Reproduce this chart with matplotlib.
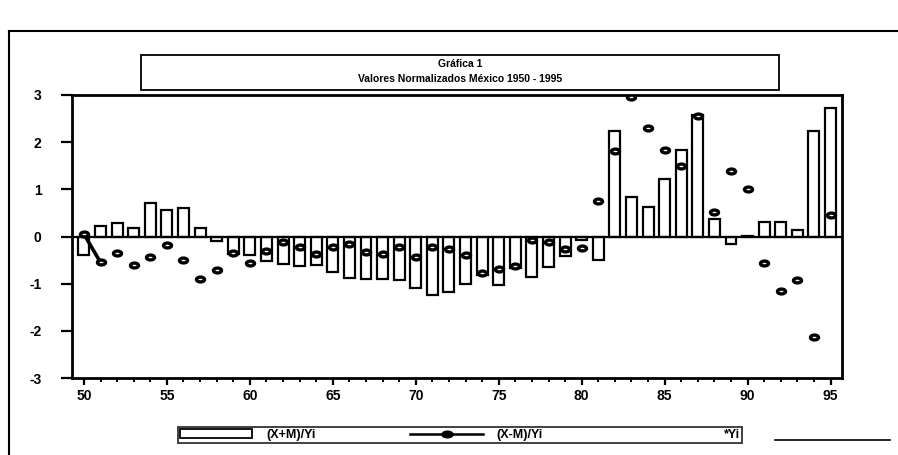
import matplotlib
matplotlib.use('Agg')
import matplotlib.pyplot as plt
import numpy as np
from matplotlib.path import Path
from matplotlib.patches import Rectangle
from matplotlib.lines import Line2D

# ---- data ----
years = list(range(50, 96))

x_plus_m = [-0.40, 0.23, 0.28, 0.18, 0.72, 0.56, 0.60, 0.19, -0.09, -0.38,
            -0.40, -0.52, -0.58, -0.62, -0.60, -0.76, -0.87, -0.90, -0.90, -0.92,
            -1.10, -1.24, -1.17, -1.01, -0.81, -1.03, -0.67, -0.86, -0.65, -0.41,
            -0.08, -0.50, 2.23, 0.84, 0.62, 1.21, 1.84, 2.57, 0.38, -0.16,
            0.02, 0.31, 0.31, 0.13, 2.23, 2.72]

x_minus_m = [0.05, -0.55, -0.36, -0.61, -0.43, -0.18, -0.50, -0.91, -0.70, -0.34,
             -0.57, -0.31, -0.11, -0.22, -0.37, -0.22, -0.15, -0.33, -0.38, -0.22,
             -0.43, -0.23, -0.26, -0.40, -0.78, -0.69, -0.62, -0.07, -0.12, -0.27,
             -0.25, 0.76, 1.81, 2.95, 2.30, 1.84, 1.50, 2.55, 0.53, 1.38,
             1.00, -0.57, -1.16, -0.93, -2.14, 0.45]

x_ticks = [50, 55, 60, 65, 70, 75, 80, 85, 90, 95]
y_ticks = [-3, -2, -1, 0, 1, 2, 3]

title_lines = ["Gráfica 1", "Valores Normalizados México 1950 - 1995"]
legend_labels = ["(X+M)/Yi", "(X-M)/Yi", "*Yi"]

W, H = 898, 455


def fx(px):
    return px / W


def fy(py):
    return 1 - py / H


plt.rcParams['font.family'] = ['Liberation Sans', 'DejaVu Sans']
plt.rcParams['font.weight'] = 'bold'

fig = plt.figure(figsize=(W / 100, H / 100), dpi=100)
fig.patch.set_facecolor('white')

# main axes, pixel box 72..842 x 95..378
ax = fig.add_axes([fx(72), fy(378), fx(842) - fx(72), fy(95) - fy(378)])

# elliptic marker (wider than tall)
circ = Path.unit_circle()
ell = Path(circ.vertices * np.array([1.0, 0.6]), circ.codes)

ax.bar(years, x_plus_m, width=0.66, facecolor='white', edgecolor='black',
       linewidth=1.6, zorder=2)
ax.axhline(0, color='black', linewidth=1.6, zorder=3)
ax.plot(years[:2], x_minus_m[:2], color='black', linewidth=2.6, zorder=4)
ax.scatter(years, x_minus_m, marker=ell, s=34, facecolor='white',
           edgecolor='black', linewidths=2.4, zorder=5)

ax.set_xlim(49.28, 95.69)
ax.set_ylim(-3, 3)
ax.set_xticks(x_ticks)
ax.set_xticklabels([str(t) for t in x_ticks])
ax.set_xticks(years, minor=True)
ax.set_yticks(y_ticks)
ax.set_yticklabels([str(t) for t in y_ticks])

ax.tick_params(axis='x', which='major', direction='out', length=5, width=1.6,
               pad=3, labelsize=10)
ax.tick_params(axis='x', which='minor', direction='out', length=3, width=1.4)
ax.tick_params(axis='y', which='major', direction='out', length=8, width=1.6,
               pad=14, labelsize=10)
for s in ax.spines.values():
    s.set_linewidth(2)
    s.set_color('black')

# title box
fig.add_artist(Rectangle((fx(141), fy(90)), fx(779) - fx(141), fy(55) - fy(90),
                         transform=fig.transFigure, facecolor='none',
                         edgecolor='black', linewidth=1.3))
fig.text(fx(460), fy(64), title_lines[0], ha='center', va='center',
         fontsize=7.5, fontweight='bold')
fig.text(fx(460), fy(79), title_lines[1], ha='center', va='center',
         fontsize=7.5, fontweight='bold')

# outer frame (only partly printed in the scan)
fig.add_artist(Line2D([fx(9), fx(898)], [fy(31), fy(31)], transform=fig.transFigure,
                      color='black', linewidth=1.5))
fig.add_artist(Line2D([fx(9), fx(9)], [fy(31), fy(455)], transform=fig.transFigure,
                      color='black', linewidth=1.5))
fig.add_artist(Line2D([fx(775), fx(890)], [fy(440), fy(440)], transform=fig.transFigure,
                      color='black', linewidth=1.2))

# legend
h_bar = Rectangle((0, 0), 1, 1, facecolor='white', edgecolor='black', linewidth=1.3)
h_line = Line2D([], [], color='black', linewidth=1.8, marker=ell, markersize=8,
                markerfacecolor='black', markeredgecolor='black')
h_yi = Line2D([], [], linestyle='none', marker=None)
leg = fig.legend([h_bar, h_line, h_yi], legend_labels, ncol=3, loc='center',
                 bbox_to_anchor=(fx(460), fy(435)),
                 handlelength=5.8, handleheight=0.75, handletextpad=1.1,
                 columnspacing=7.6, borderpad=0.15, frameon=True,
                 fancybox=False, edgecolor='black', prop={'weight': 'bold', 'size': 9})
leg.get_frame().set_linewidth(1.3)

fig.savefig('out.png', dpi=100)
